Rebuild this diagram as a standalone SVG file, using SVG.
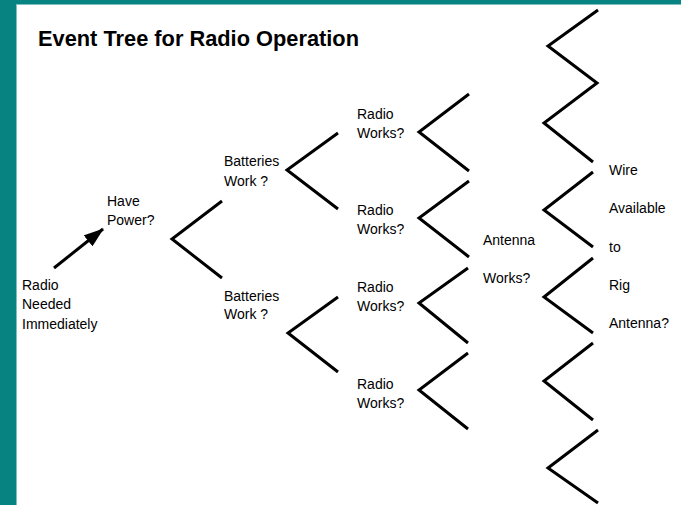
<svg xmlns="http://www.w3.org/2000/svg" width="681" height="505" viewBox="0 0 681 505">
  <style>
    .frame { fill: #078381; }
    .edge { fill: #7fbfbf; }
    .title { font-family: "Liberation Sans", Arial, sans-serif; font-size: 21.8px; font-weight: bold; fill: #000; }
    .lbl { font-family: "Liberation Sans", Arial, sans-serif; font-size: 14px; fill: #000; }
    .br { fill: none; stroke: #000; stroke-width: 3; stroke-linecap: butt; stroke-linejoin: miter; }
  </style>
  <defs>
    <marker id="arrowhead" viewBox="0 0 20 14" refX="19" refY="7" markerWidth="20" markerHeight="14" markerUnits="userSpaceOnUse" orient="auto">
      <path d="M0,0 L20,7 L0,14 Z" fill="#000"/>
    </marker>
  </defs>

  <rect width="681" height="505" fill="#ffffff"/>
  <!-- slide frame -->
  <rect class="frame" x="0" y="0" width="681" height="4"/>
  <rect class="frame" x="0" y="0" width="16" height="505"/>
  <rect class="edge" x="16" y="4" width="665" height="1"/>
  <rect class="edge" x="16" y="4" width="1" height="501"/>

  <text class="title" x="38" y="46">Event Tree for Radio Operation</text>

  <!-- connectors -->
  <g id="connectors">
    <line class="br" x1="54" y1="268" x2="103" y2="229" marker-end="url(#arrowhead)"/>
    <!-- power branch -->
    <polyline class="br" points="222,201 172,239 222,278"/>
    <!-- battery branches -->
    <polyline class="br" points="338,133 287,170 338,209"/>
    <polyline class="br" points="338,297 288,333 338,372"/>
    <!-- radio branches -->
    <polyline class="br" points="469,94 419,132 469,171"/>
    <polyline class="br" points="469,181 419,218 469,257"/>
    <polyline class="br" points="468,268 419,303 468,343"/>
    <polyline class="br" points="468,353 419,390 468,429"/>
    <!-- wire branches -->
    <polyline class="br" points="598,10 548,46 597,83 544,123 593,162"/>
    <polyline class="br" points="593,172 544,210 593,247"/>
    <polyline class="br" points="593,258 544,297 593,333"/>
    <polyline class="br" points="593,343 544,381 593,420"/>
    <polyline class="br" points="598,430 548,468 598,503"/>
  </g>

  <g id="start">
    <text class="lbl" x="22" y="290">Radio</text>
    <text class="lbl" x="22" y="309">Needed</text>
    <text class="lbl" x="22" y="329">Immediately</text>
  </g>
  <g id="power">
    <text class="lbl" x="107" y="206">Have</text>
    <text class="lbl" x="107" y="225">Power?</text>
  </g>
  <g id="batteries-1">
    <text class="lbl" x="224" y="166">Batteries</text>
    <text class="lbl" x="224" y="186">Work ?</text>
  </g>
  <g id="batteries-2">
    <text class="lbl" x="224" y="301">Batteries</text>
    <text class="lbl" x="224" y="319">Work ?</text>
  </g>
  <g id="radio-1">
    <text class="lbl" x="357" y="119">Radio</text>
    <text class="lbl" x="357" y="138">Works?</text>
  </g>
  <g id="radio-2">
    <text class="lbl" x="357" y="215">Radio</text>
    <text class="lbl" x="357" y="234">Works?</text>
  </g>
  <g id="radio-3">
    <text class="lbl" x="357" y="292">Radio</text>
    <text class="lbl" x="357" y="311">Works?</text>
  </g>
  <g id="radio-4">
    <text class="lbl" x="357" y="389">Radio</text>
    <text class="lbl" x="357" y="408">Works?</text>
  </g>
  <g id="antenna">
    <text class="lbl" x="483" y="245">Antenna</text>
    <text class="lbl" x="483" y="283">Works?</text>
  </g>
  <g id="wire">
    <text class="lbl" x="609" y="175">Wire</text>
    <text class="lbl" x="609" y="213">Available</text>
    <text class="lbl" x="609" y="252">to</text>
    <text class="lbl" x="609" y="290">Rig</text>
    <text class="lbl" x="609" y="328">Antenna?</text>
  </g>
</svg>
